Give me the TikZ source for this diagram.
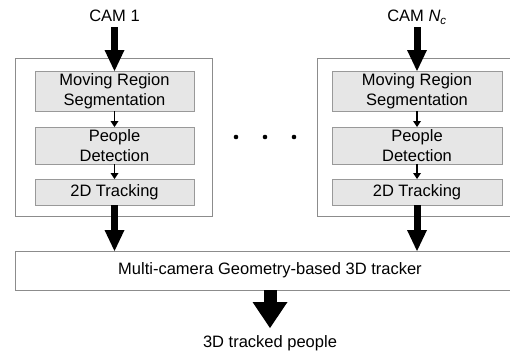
\documentclass[tikz,border=0pt]{standalone}
\usepackage{fontspec}
\setmainfont{Liberation Sans}
\usetikzlibrary{arrows.meta,calc}
\definecolor{boxfill}{HTML}{E6E6E6}
\definecolor{boxline}{HTML}{999999}
\definecolor{outline}{HTML}{8C8C8C}
\begin{document}
\begin{tikzpicture}[x=1bp,y=-1bp,
  every node/.style={font=\fontsize{16.5bp}{19.5bp}\selectfont, inner sep=0pt, outer sep=0pt},
  stage/.style={draw=boxline, line width=0.8bp, fill=boxfill, minimum height=#1, align=center},
  frame/.style={draw=outline, line width=0.9bp},
  bigarrow/.style={line width=7bp, -{Triangle[length=21bp,width=20bp,line width=0pt]}},
  hugearrow/.style={line width=13bp, -{Triangle[length=26bp,width=35bp,line width=0pt]}},
  smallarrow/.style={line width=1.3bp, -{Triangle[length=6bp,width=8bp,line width=0pt]}}
]
\useasboundingbox (0,0) rectangle (510,350);
% frames
\draw[frame] (15,58.5) rectangle (212,216.5);
\draw[frame] (317,58.5) rectangle (540,216.5);
% left column
\node[anchor=base] (cam1) at (114.5,21.7) {CAM 1};
\node[stage=40bp, minimum width=159bp] (seg1) at (114.5,91) {Moving Region\\Segmentation};
\node[stage=37bp, minimum width=159bp] (det1) at (114.5,145.5) {People\\Detection};
\node[stage=26bp, minimum width=159bp] (trk1) at (114.5,192) {2D Tracking};
% right column
\node[anchor=base] (camn) at (417,21.7) {CAM {\itshape N\textsubscript{c}}};
\node[stage=40bp, minimum width=170bp] (segn) at (417,91) {Moving Region\\Segmentation};
\node[stage=37bp, minimum width=170bp] (detn) at (417,145.5) {People\\Detection};
\node[stage=26bp, minimum width=170bp] (trkn) at (417,192) {2D Tracking};
% dots
\foreach \i/\xx in {1/236,2/265,3/294}{
  \fill (\xx,137) circle (2.3bp);
}
% tracker
\node[draw=outline, line width=0.9bp, minimum width=510bp, minimum height=39bp] (tracker) at (270,270.5) {Multi-camera Geometry-based 3D tracker};
\node[anchor=base] (out) at (270,347.7) {3D tracked people};
\coordinate (outtip) at (270,328);
\coordinate (cam1top) at (114.5,27);
\coordinate (camntop) at (417,27);
% arrows
\draw[bigarrow] (cam1top) -- (seg1.north);
\draw[bigarrow] (camntop) -- (segn.north);
\draw[smallarrow] (seg1.south) -- (det1.north);
\draw[smallarrow] (det1.south) -- (trk1.north);
\draw[smallarrow] (segn.south) -- (detn.north);
\draw[smallarrow] (detn.south) -- (trkn.north);
\draw[bigarrow] (trk1.south) -- (trk1.south |- tracker.north);
\draw[bigarrow] (trkn.south) -- (trkn.south |- tracker.north);
\draw[hugearrow] (tracker.south) -- (outtip);
\end{tikzpicture}
\end{document}
